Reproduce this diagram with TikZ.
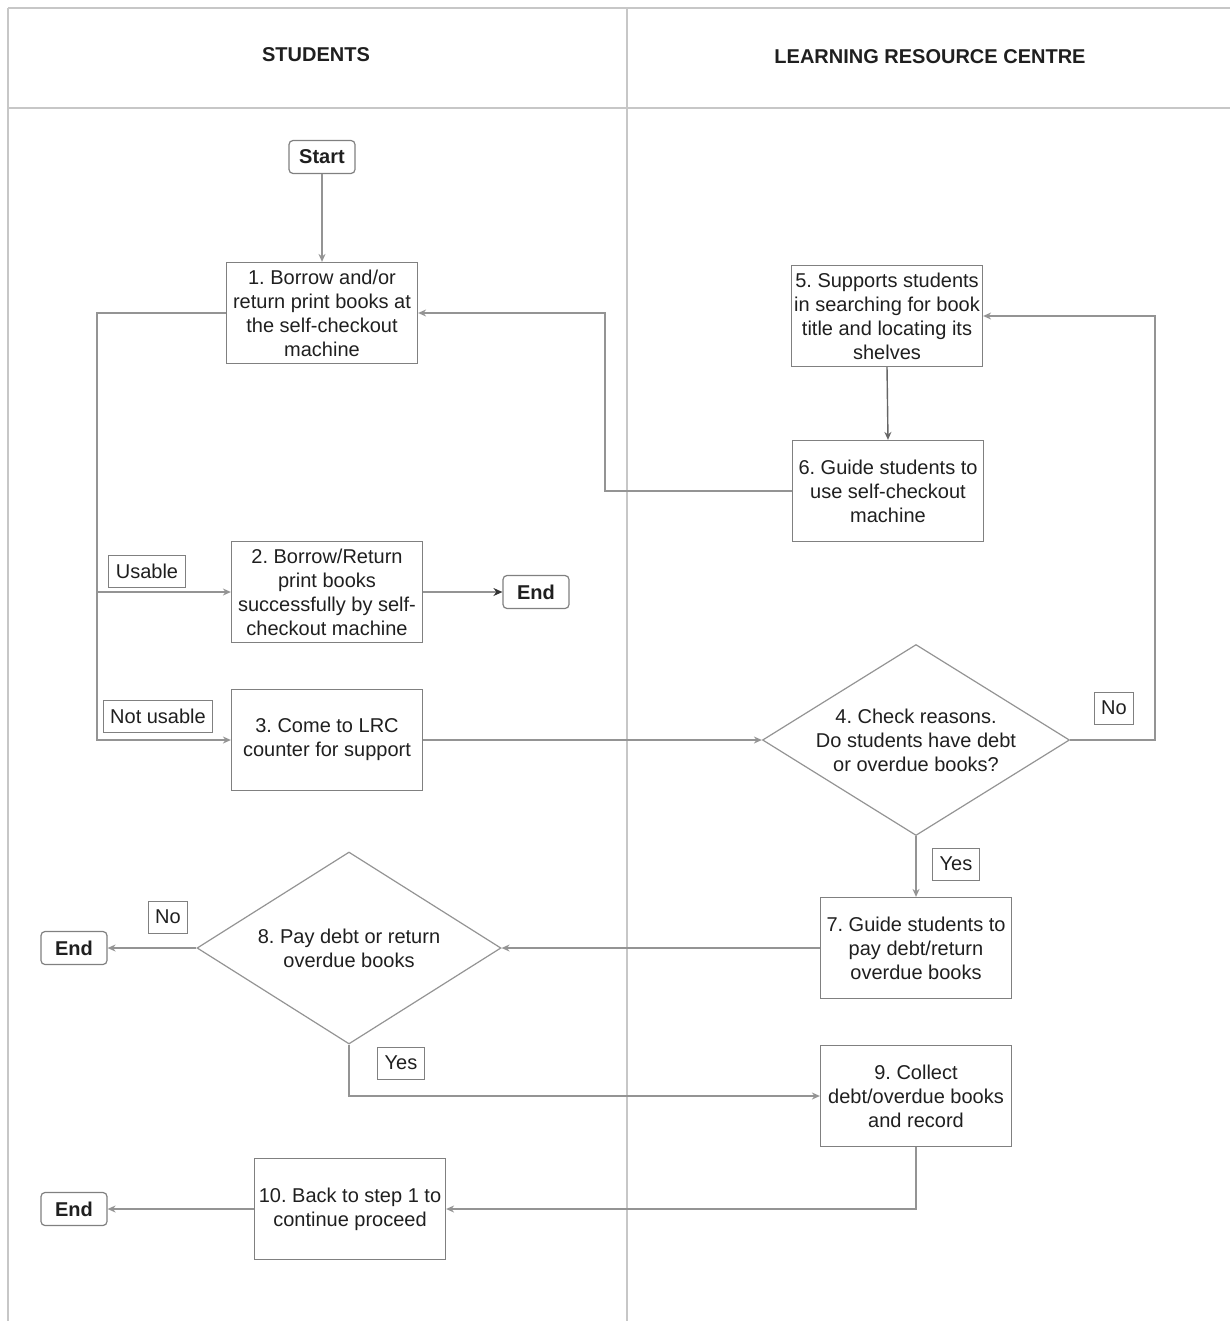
\documentclass[tikz,border=0pt]{standalone}
\usepackage{fontspec}
\setmainfont{Liberation Sans}
\usetikzlibrary{shapes.geometric,arrows.meta}
\frenchspacing

\definecolor{linec}{gray}{0.58}
\definecolor{boxc}{gray}{0.50}
\definecolor{framec}{gray}{0.78}
\definecolor{txt}{gray}{0.12}

\tikzset{
  every node/.style={text=txt},
  stepbox/.style={draw=boxc, line width=0.6pt, minimum width=95.5pt, minimum height=50.5pt,
    inner sep=0pt, align=center, font=\fontsize{10}{12}\selectfont},
  termbox/.style={draw=boxc, line width=0.6pt, rounded corners=2pt, minimum width=33pt,
    minimum height=16.5pt, inner sep=0pt, font=\bfseries\fontsize{10}{12}\selectfont},
  decide/.style={draw=linec, line width=0.6pt, diamond, inner sep=0pt},
  decidetext/.style={align=center, inner sep=0pt, font=\fontsize{10}{12}\selectfont},
  tagbox/.style={draw=boxc, line width=0.5pt, minimum height=16pt, inner xsep=3.5pt,
    inner ysep=0pt, font=\fontsize{10}{12}\selectfont},
  header/.style={font=\bfseries\fontsize{10}{12}\selectfont},
  conn/.style={draw=linec, line width=0.7pt},
  arr/.style={conn, -{Stealth[length=4pt,width=3.5pt]}},
  darktip/.style={conn, -{Stealth[length=4.5pt,width=4pt,color=black!80]}},
  frame/.style={draw=framec, line width=0.6pt}
}

\begin{document}
\begin{tikzpicture}[x=0.5pt, y=-0.5pt]
\useasboundingbox (0,0) rectangle (1230,1321);

% swimlane frame
\draw[frame] (8,8) -- (1230,8);
\draw[frame] (8,108) -- (1230,108);
\draw[frame] (8,8) -- (8,1321);
\draw[frame] (627,8) -- (627,1321);

\node[header] (hs) at (316,55) {STUDENTS};
\node[header] (hl) at (930,57) {LEARNING RESOURCE CENTRE};

% students lane
\node[termbox] (start) at (322,157) {Start};
\node[stepbox] (b1) at (322,313) {1. Borrow and/or\\return print books at\\the self-checkout\\machine};
\node[stepbox] (b2) at (327,592) {2. Borrow/Return\\print books\\successfully by self-\\checkout machine};
\node[termbox] (e2) at (536,592) {End};
\node[stepbox] (b3) at (327,740) {3. Come to LRC\\counter for support};
\node[decide, minimum width=152pt, minimum height=96pt] (d8) at (349,948) {};
\node[decidetext] (d8t) at (d8.center) {8. Pay debt or return\\overdue books};
\node[termbox] (e8) at (74,948) {End};
\node[stepbox] (b10) at (350,1209) {10. Back to step 1 to\\continue proceed};
\node[termbox] (e10) at (74,1209) {End};

% learning resource centre lane
\node[stepbox] (b5) at (887,316) {5. Supports students\\in searching for book\\title and locating its\\shelves};
\node[stepbox] (b6) at (888,491) {6. Guide students to\\use self-checkout\\machine};
\node[decide, minimum width=153.5pt, minimum height=95.5pt] (d4) at (916,740) {};
\node[decidetext] (d4t) at (d4.center) {4. Check reasons.\\Do students have debt\\or overdue books?};
\node[stepbox] (b7) at (916,948) {7. Guide students to\\pay debt/return\\overdue books};
\node[stepbox] (b9) at (916,1096) {9. Collect\\debt/overdue books\\and record};

% branch labels
\node[tagbox] (tu) at (147,571) {Usable};
\node[tagbox] (tn) at (158,716) {Not usable};
\node[tagbox] (tno4) at (1114,708) {No};
\node[tagbox] (tyes4) at (956,864) {Yes};
\node[tagbox] (tno8) at (168,917) {No};
\node[tagbox] (tyes8) at (401,1063) {Yes};

% bend points
\coordinate (sp2) at (97,592);
\coordinate (sp3) at (97,740);
\coordinate (r4) at (1155,740);
\coordinate (l6) at (605,491);

% connectors
\draw[arr] (start) -- (b1);
\draw[arr] (b1.west) -| (sp3) -- (b3.west);
\draw[arr] (sp2) -- (b2.west);
\draw[darktip] (b2.east) -- (e2.west);
\draw[arr] (b3.east) -- (d4.west);
\draw[arr] (d4.east) -- (r4) |- (b5.east);
\draw[arr, draw=black!60] (b5.south) -- (b6.north);
\draw[arr] (b6.west) -- (l6) |- (b1.east);
\draw[arr] (d4.south) -- (b7.north);
\draw[arr] (b7.west) -- (d8.east);
\draw[arr] (d8.west) -- (e8.east);
\draw[arr] (d8.south) |- (b9.west);
\draw[arr] (b9.south) |- (b10.east);
\draw[arr] (b10.west) -- (e10.east);
\end{tikzpicture}
\end{document}
